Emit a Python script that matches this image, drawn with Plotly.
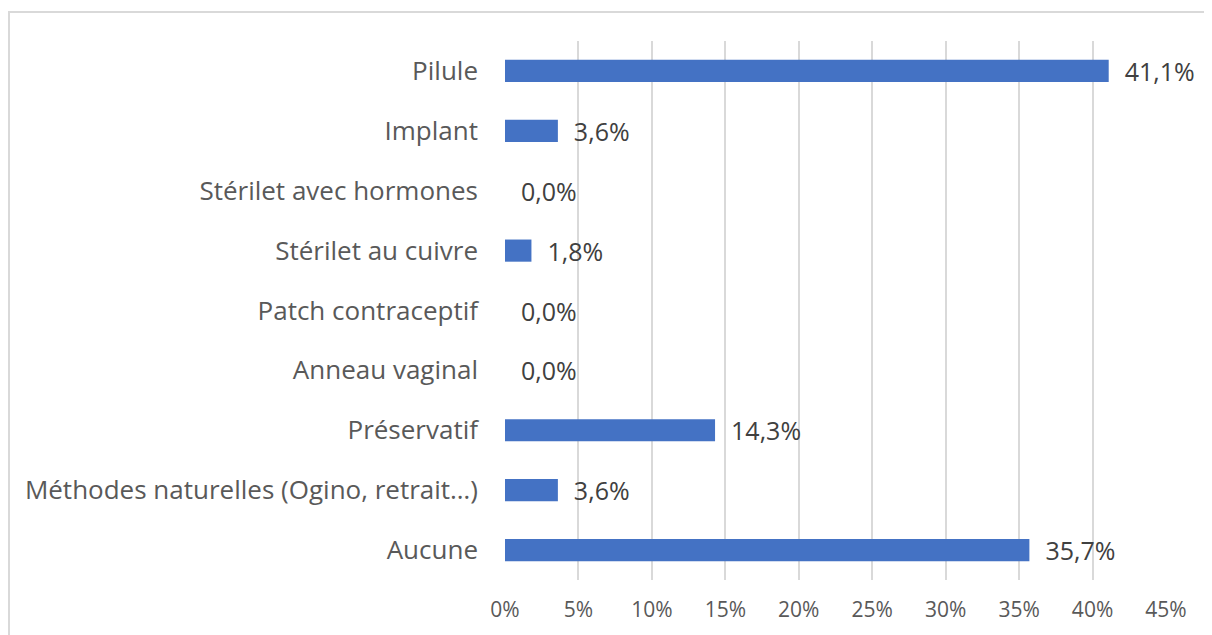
import plotly.graph_objects as go

# Categories top to bottom
categories = [
    "Pilule",
    "Implant",
    "Stérilet avec hormones",
    "Stérilet au cuivre",
    "Patch contraceptif",
    "Anneau vaginal",
    "Préservatif",
    "Méthodes naturelles (Ogino, retrait…)",
    "Aucune",
]
values = [41.1, 3.6, 0.0, 1.8, 0.0, 0.0, 14.3, 3.6, 35.7]
tick_values = [0, 5, 10, 15, 20, 25, 30, 35, 40, 45]
tick_labels = [f"{t}%" for t in tick_values]

# leading non-breaking spaces give the gap between bar end and label
labels = ["\u00a0\u00a0" + f"{v:.1f}".replace(".", ",") + "%" for v in values]

fig = go.Figure()
fig.add_trace(go.Bar(
    x=values,
    y=categories,
    orientation="h",
    marker=dict(color="#4472C4", line=dict(width=0)),
    text=labels,
    textposition="outside",
    constraintext="none",
    cliponaxis=False,
    textfont=dict(size=25, color="#404040"),
))

# page has an 8px body margin, so work in figure coordinates
OFF = 8
W, H = 1212 - OFF, 635 - OFF
L, R, T, B = 505 - OFF, 1166 - OFF, 41 - OFF, 580 - OFF
pw, ph = R - L, B - T

fig.update_layout(
    width=W, height=H,
    margin=dict(l=L, r=W - R, t=T, b=H - B),
    plot_bgcolor="white",
    paper_bgcolor="white",
    font=dict(family="Open Sans", color="#595959"),
    bargap=0.63,
    showlegend=False,
    xaxis=dict(
        range=[0, 45],
        tickvals=tick_values,
        ticktext=tick_labels,
        showgrid=True,
        gridcolor="#d9d9d9",
        gridwidth=1.5,
        zeroline=False,
        showline=False,
        tickfont=dict(size=21, color="#595959"),
        ticklabelstandoff=15,
    ),
    yaxis=dict(
        categoryorder="array",
        categoryarray=categories[::-1],
        showgrid=False,
        zeroline=False,
        tickfont=dict(size=26, color="#595959"),
        ticklabelstandoff=26,
    ),
    shapes=[dict(
        type="rect", xref="paper", yref="paper",
        x0=(1 - L) / pw, x1=1.3,
        y0=-0.3, y1=1 + (T - (12 - OFF)) / ph,
        line=dict(color="#d9d9d9", width=2),
        layer="below",
    )],
)

fig.write_html("out.html")
